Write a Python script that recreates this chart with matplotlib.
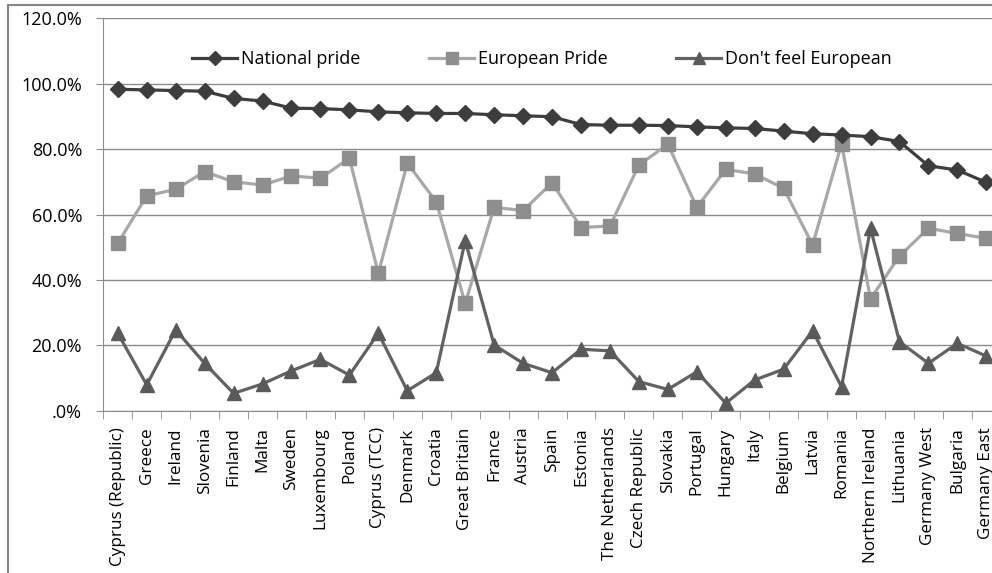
import numpy as np
import matplotlib.pyplot as plt
from matplotlib.patches import Rectangle

plt.rcParams['font.family'] = ['Open Sans', 'DejaVu Sans']

countries = ["Cyprus (Republic)", "Greece", "Ireland", "Slovenia", "Finland", "Malta",
             "Sweden", "Luxembourg", "Poland", "Cyprus (TCC)", "Denmark", "Croatia",
             "Great Britain", "France", "Austria", "Spain", "Estonia", "The Netherlands",
             "Czech Republic", "Slovakia", "Portugal", "Hungary", "Italy", "Belgium",
             "Latvia", "Romania", "Northern Ireland", "Lithuania", "Germany West",
             "Bulgaria", "Germany East"]

national_pride = [98.3, 98.1, 97.9, 97.7, 95.5, 94.7, 92.5, 92.4, 92.0, 91.4, 91.1, 90.9,
                  90.9, 90.5, 90.2, 89.9, 87.5, 87.3, 87.3, 87.2, 86.8, 86.5, 86.3, 85.5,
                  84.7, 84.3, 83.8, 82.3, 74.9, 73.6, 69.8]
european_pride = [51.2, 65.7, 67.7, 73.1, 70.0, 69.0, 71.8, 71.1, 77.2, 42.0, 75.7, 63.9,
                  32.8, 62.2, 61.2, 69.7, 56.0, 56.5, 75.1, 81.5, 62.2, 73.8, 72.4, 68.0,
                  50.7, 81.6, 34.2, 47.3, 55.8, 54.2, 52.7]
not_european = [23.7, 7.9, 24.7, 14.5, 5.3, 8.2, 12.2, 15.7, 10.9, 23.7, 6.1, 11.6,
                52.0, 20.1, 14.5, 11.6, 18.8, 18.3, 8.9, 6.5, 11.9, 2.3, 9.4, 12.7,
                24.4, 7.3, 55.8, 21.1, 14.5, 20.6, 16.7]

ytick_vals = [0, 20, 40, 60, 80, 100, 120]
ytick_labels = [".0%", "20.0%", "40.0%", "60.0%", "80.0%", "100.0%", "120.0%"]

fig = plt.figure(figsize=(9.92, 5.73), dpi=100)
# outer chart border (cut off on the right and bottom)
fig.patches.append(Rectangle((8 / 992, -0.1), 1.2, 1 - 5 / 573 + 0.1, transform=fig.transFigure,
                             fill=False, edgecolor="#868686", linewidth=1.5))

ax = fig.add_axes([103.3 / 992, 162.3 / 573, 897.5 / 992, 392.4 / 573])
x = np.arange(len(countries))

ax.plot(x, national_pride, color="#3d3d3d", lw=2.3, marker="D", ms=8.5,
        mfc="#3d3d3d", mec="#3d3d3d", label="National pride", zorder=5)
ax.plot(x, european_pride, color="#a8a8a8", lw=2.3, marker="s", ms=10,
        mfc="#8e8e8e", mec="#8e8e8e", label="European Pride", zorder=4)
ax.plot(x, not_european, color="#626262", lw=2.3, marker="^", ms=10.5,
        mfc="#5a5a5a", mec="#5a5a5a", label="Don't feel European", zorder=4)

ax.set_xlim(-0.5, len(countries) - 0.5)
ax.set_ylim(0, 120)
ax.set_yticks(ytick_vals)
ax.set_yticklabels(ytick_labels, fontsize=13)
ax.yaxis.grid(True, color="#8c8c8c", lw=1)
ax.set_axisbelow(True)

ax.set_xticks(x)
ax.set_xticklabels(countries, rotation=90, fontsize=12.3)
ax.tick_params(axis="x", length=0, pad=12)
ax.set_xticks(np.arange(len(countries) + 1) - 0.5, minor=True)
ax.tick_params(axis="x", which="minor", length=6, color="#8c8c8c")
ax.tick_params(axis="y", length=4.8, color="#8c8c8c", pad=10.5)

for s in ["top", "right"]:
    ax.spines[s].set_visible(False)
ax.spines["left"].set_color("#8c8c8c")
ax.spines["bottom"].set_color("#8c8c8c")

fig.legend(loc="center", bbox_to_anchor=(542 / 992, 1 - 59 / 573), ncol=3, frameon=False,
           fontsize=13, handlelength=2.5, columnspacing=3.8, handletextpad=0.2,
           markerscale=0.85)

fig.savefig("out.png", dpi=100)
